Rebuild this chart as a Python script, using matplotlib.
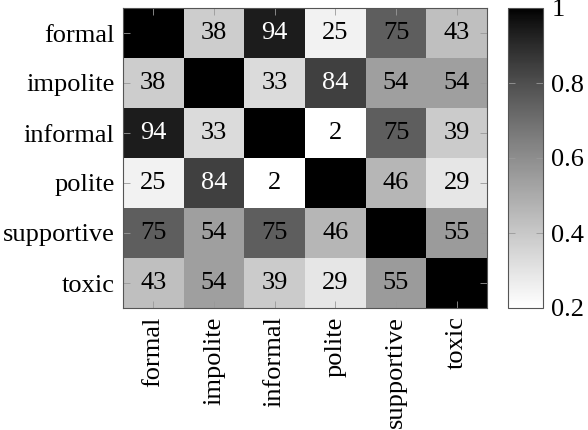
import numpy as np
import matplotlib
matplotlib.use("Agg")
import matplotlib.pyplot as plt
from matplotlib.colors import ListedColormap

plt.rcParams['font.family'] = ['Liberation Serif', 'DejaVu Serif']
plt.rcParams['mathtext.fontset'] = 'stix'

labels = ['formal', 'impolite', 'informal', 'polite', 'supportive', 'toxic']
scores = [
    [100, 38, 94, 25, 75, 43],
    [38, 100, 33, 84, 54, 54],
    [94, 33, 100, 2, 75, 39],
    [25, 84, 2, 100, 46, 29],
    [75, 54, 75, 46, 100, 55],
    [43, 54, 39, 29, 55, 100],
]
cbar_ticks = [0.2, 0.4, 0.6, 0.8, 1.0]

vals = np.array(scores) / 100.0

# white -> black, slightly lighter in the middle like the pgfplots output
t = np.linspace(0, 1, 256)
g = (1 - t) ** 0.85
cmap = ListedColormap(np.column_stack([g, g, g]))

fig = plt.figure(figsize=(5.88, 4.30), dpi=100)
ax = fig.add_axes([123 / 588, 1 - 308 / 430, 364 / 588, 300 / 430])
cax = fig.add_axes([508 / 588, 1 - 308 / 430, 35 / 588, 300 / 430])

im = ax.imshow(vals, cmap=cmap, vmin=0.2, vmax=1.0, aspect='auto',
               interpolation='nearest')

n = len(labels)
for i in range(n):
    for j in range(n):
        if i == j:
            continue
        v = scores[i][j]
        col = 'white' if v >= 80 else 'black'
        ax.text(j, i, str(v), ha='center', va='center', fontsize=19, color=col)

ax.set_xticks(range(n))
ax.set_yticks(range(n))
ax.set_xticklabels(labels, rotation=90, fontsize=19)
ax.set_yticklabels(labels, fontsize=19)
ax.tick_params(direction='in', length=5, width=0.6, color='#999999',
               top=True, right=True, pad=6)
for s in ax.spines.values():
    s.set_color('#555555')
    s.set_linewidth(0.8)

cb = fig.colorbar(im, cax=cax)
cb.set_ticks(cbar_ticks)
cb.set_ticklabels(['0.2', '0.4', '0.6', '0.8', '1'])
cax.tick_params(direction='in', length=5, width=0.6, color='#999999',
                left=True, right=True, labelsize=19, pad=6)
cb.outline.set_edgecolor('#555555')
cb.outline.set_linewidth(0.8)

fig.savefig('out.png', dpi=100)
